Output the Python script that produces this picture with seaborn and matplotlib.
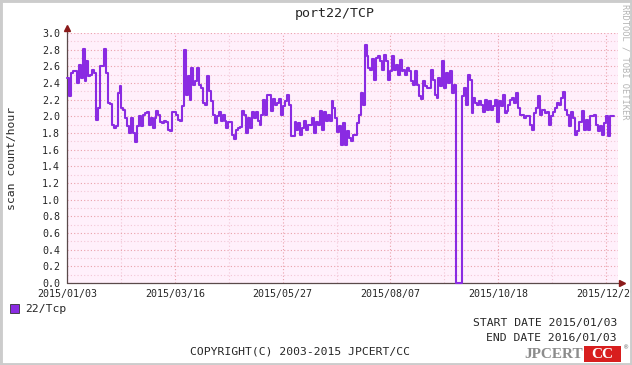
import matplotlib
matplotlib.use("Agg")
import numpy as np
import pandas as pd
import matplotlib.pyplot as plt
from matplotlib.patches import Rectangle, Patch
from matplotlib.ticker import MultipleLocator, FormatStrFormatter
import seaborn as sns

# scan count/hour, about one value every 1.3 days
seg_jan_mar = [2.46, 2.25, 2.52, 2.54, 2.54, 2.40, 2.62, 2.46, 2.81, 2.42, 2.66, 2.48, 2.50, 2.56,
               2.52, 1.96, 2.10, 2.60, 2.60, 2.81, 2.52, 2.16, 2.15, 1.90, 1.86, 1.88, 2.28, 2.37,
               2.10, 2.08, 1.98, 1.88, 1.80, 1.98, 1.80, 1.69, 1.88, 2.01, 1.88, 2.02, 2.04, 2.05,
               1.90, 1.98, 1.86, 1.98, 2.06, 2.02, 1.93, 1.92, 1.94, 1.93, 1.84, 1.82, 2.05, 2.05]
seg_mar_may = [2.02, 1.96, 1.94, 2.12, 2.80, 2.26, 2.48, 2.20, 2.58, 2.38, 2.42, 2.58, 2.38, 2.34,
               2.16, 2.14, 2.49, 2.30, 2.18, 2.02, 1.92, 2.00, 2.05, 1.95, 2.02, 1.95, 1.86, 1.93,
               1.93, 1.78, 1.73, 1.84, 1.86, 1.87, 2.06, 2.02, 1.80, 1.98, 1.86, 2.05, 1.98, 2.05,
               1.94, 1.90, 2.02, 2.20, 2.02, 2.26, 2.26, 2.06, 2.21, 2.14, 2.16, 2.21, 2.02, 2.12]
seg_may_aug = [2.18, 2.26, 2.14, 1.76, 1.76, 1.93, 1.84, 1.92, 1.78, 1.86, 1.94, 1.84, 1.90, 1.90,
               1.98, 1.80, 1.93, 1.90, 2.06, 1.84, 2.05, 1.94, 2.02, 1.94, 2.18, 2.10, 1.98, 1.81,
               1.88, 1.66, 1.92, 1.66, 1.82, 1.74, 1.70, 1.78, 1.78, 1.92, 2.02, 2.28, 2.14, 2.86,
               2.72, 2.58, 2.56, 2.69, 2.44, 2.70, 2.72, 2.66, 2.56, 2.74, 2.66, 2.44, 2.55, 2.73,
               2.56]
seg_aug_oct = [2.62, 2.50, 2.68, 2.54, 2.56, 2.50, 2.58, 2.54, 2.42, 2.38, 2.55, 2.38, 2.24, 2.21,
               2.42, 2.36, 2.34, 2.34, 2.56, 2.44, 2.26, 2.22, 2.46, 2.36, 2.66, 2.34, 2.52, 2.40,
               2.54, 2.28, 2.38, 0.0, 0.0, 0.0, 2.25, 2.34, 2.14, 2.50, 2.44, 2.04, 2.22, 2.16,
               2.14, 2.18, 2.14, 2.05, 2.20, 2.08, 2.18, 2.08, 2.12, 2.20, 1.93, 2.18, 2.12, 2.26,
               2.04]
seg_oct_dec = [2.06, 2.14, 2.20, 2.22, 2.16, 2.28, 2.10, 2.02, 2.02, 1.98, 2.01, 2.01, 1.90, 1.84,
               2.04, 2.10, 2.25, 2.02, 2.08, 2.08, 2.04, 2.05, 1.90, 2.00, 2.05, 2.10, 2.16, 2.14,
               2.22, 2.29, 2.08, 2.02, 1.88, 2.05, 1.98, 1.78, 1.82, 1.93, 1.93, 2.06, 1.84, 1.96,
               1.84, 2.00, 2.01, 2.02, 1.90, 1.82, 1.88, 1.78, 1.92, 2.00, 1.76, 2.00, 2.00]

scan_rate = seg_jan_mar + seg_mar_may + seg_may_aug + seg_aug_oct + seg_oct_dec

start = pd.Timestamp("2015-01-03")
end = pd.Timestamp("2016-01-03")
dates = pd.date_range(start, end, periods=len(scan_rate) + 1)
df = pd.DataFrame({"date": dates, "rate": scan_rate + scan_rate[-1:]})

tick_dates = pd.date_range(start, periods=6, freq="72D")
tick_labels = [d.strftime("%Y/%m/%d") for d in tick_dates]
minor_dates = pd.date_range(start, periods=11, freq="36D")

sns.set_style("white")
plt.rcParams["font.family"] = ["DejaVu Sans Mono"]

W, H = 632, 365
fig = plt.figure(figsize=(W / 100, H / 100), dpi=100)
ax = fig.add_axes([67 / W, 82 / H, 551 / W, 250 / H])
ax.set_facecolor("#fff0fb")

sns.lineplot(data=df, x="date", y="rate", ax=ax, color="#8a2be2", linewidth=1.5,
             drawstyle="steps-post", zorder=5, clip_on=False)

ax.set_xlim(start, start + pd.Timedelta(days=368))
ax.set_ylim(0, 3.0)
ax.set_xlabel("")
ax.set_ylabel("")

# grid
ax.yaxis.set_major_locator(MultipleLocator(0.2))
ax.yaxis.set_minor_locator(MultipleLocator(0.1))
ax.yaxis.set_major_formatter(FormatStrFormatter("%.1f"))
ax.set_xticks(tick_dates)
ax.set_xticklabels(tick_labels)
ax.set_xticks(minor_dates, minor=True)
ax.grid(True, which="major", color="#eaa0aa", linestyle=(0, (1, 2)), linewidth=0.8)
ax.grid(True, which="minor", color="#f3c6d6", linestyle=(0, (1, 2)), linewidth=0.8)
ax.set_axisbelow(True)

ax.tick_params(axis="both", which="major", direction="out", length=2.5, width=0.7,
               color="#555555", labelsize=7.2, pad=2.5)
ax.tick_params(axis="both", which="minor", direction="out", length=1.5, width=0.5, color="#999999")
ax.tick_params(axis="x", which="major", pad=1.5)

for s in ax.spines.values():
    s.set_visible(False)

# axis lines with arrows
ax.plot([0, 0], [0, 1.02], transform=ax.transAxes, color="#5a4a4a", lw=0.9, clip_on=False, zorder=4)
ax.plot([0, 1.008], [0, 0], transform=ax.transAxes, color="#5a4a4a", lw=0.9, clip_on=False, zorder=4)
ax.plot([0], [1.022], transform=ax.transAxes, marker="^", color="#8b1a1a", markersize=4,
        clip_on=False, zorder=6)
ax.plot([1.008], [0], transform=ax.transAxes, marker=">", color="#8b1a1a", markersize=4,
        clip_on=False, zorder=6)

# texts
fig.text(335 / W, 1 - 13 / H, "port22/TCP", ha="center", va="center", fontsize=9.5)
fig.text(12 / W, 1 - 158 / H, "scan count/hour", rotation=90, ha="center", va="center", fontsize=8.2)
fig.text(625 / W, 1 - 62 / H, "RRDTOOL / TOBI OETIKER", rotation=270, ha="center", va="center",
         fontsize=6.3, color="#b4b4b4")

fig.legend(handles=[Patch(facecolor="#8a2be2", edgecolor="#333333", linewidth=0.6)],
           labels=["22/Tcp"], loc="center left", bbox_to_anchor=(10 / W, 1 - 309 / H),
           frameon=False, handlelength=0.75, handleheight=0.9, handletextpad=0.6,
           fontsize=8.2, borderaxespad=0, borderpad=0)

fig.text(617 / W, 1 - 323 / H, "START DATE 2015/01/03", ha="right", va="center", fontsize=8.2)
fig.text(617 / W, 1 - 338 / H, "END DATE 2016/01/03", ha="right", va="center", fontsize=8.2)
fig.text(300 / W, 1 - 352 / H, "COPYRIGHT(C) 2003-2015 JPCERT/CC", ha="center", va="center",
         fontsize=8.2)

# JPCERT/CC logo
fig.text(583 / W, 1 - 354 / H, "JPCERT", ha="right", va="center", fontsize=11,
         family="Liberation Serif", weight="bold", color="#8c8c8c")
fig.add_artist(Rectangle((584 / W, 1 - 362 / H), 37 / W, 16 / H, transform=fig.transFigure,
                         facecolor="#d81e1e", edgecolor="none"))
fig.text(602.5 / W, 1 - 354 / H, "CC", ha="center", va="center", fontsize=11,
         family="Liberation Serif", weight="bold", color="white")
fig.text(626 / W, 1 - 347 / H, "®", ha="center", va="center", fontsize=5, color="#777777")

# light grey frame
fig.add_artist(Rectangle((0, 0), 1, 1, transform=fig.transFigure, fill=False,
                         edgecolor="#cccccc", linewidth=3.5))

fig.savefig("out.png", dpi=100)
